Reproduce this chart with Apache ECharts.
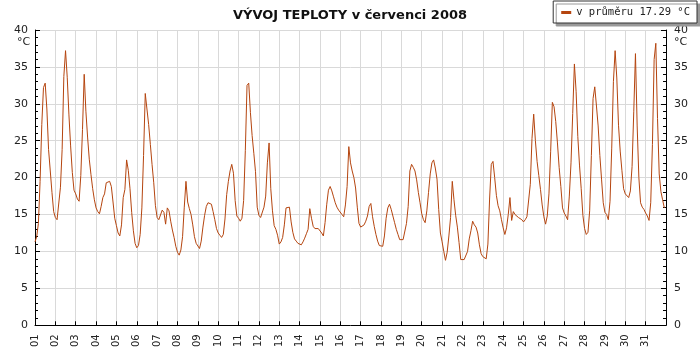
<!DOCTYPE html>
<html><head><meta charset="utf-8">
<script src="https://cdn.jsdelivr.net/npm/echarts@6/dist/echarts.min.js"></script>
<style>html,body{margin:0;padding:0;background:#fff}#c{width:700px;height:350px}</style>
</head><body><div id="c"></div>
<script>
const chartTitle = 'VÝVOJ TEPLOTY v červenci 2008';
const legendName = 'v průměru 17.29 °C';
const unitLabel = '°C';
const samplesPerDay = 12; // one reading every 2 hours

const days01_04 = [
  11.3, 12.0, 13.8, 19.5, 27.2, 32.2, 32.8, 29.3, 23.8, 20.9, 18.0, 15.4,
  14.6, 14.3, 14.2, 18.7, 23.8, 33.7, 37.2, 33.6, 28.5, 24.3, 20.7, 18.3,
  17.8, 17.1, 16.8, 20.3, 26.5, 34.0, 29.0, 25.5, 22.5, 20.4, 18.5, 17.0,
  15.9, 15.4, 15.1, 16.1, 17.3, 17.8, 19.3, 19.4, 19.5, 18.8, 16.7, 14.5
];
const days05_08 = [
  13.5, 12.5, 12.1, 13.6, 17.3, 18.4, 22.4, 21.0, 18.5, 15.3, 12.8, 11.1,
  10.5, 10.8, 12.3, 15.9, 23.0, 31.4, 29.3, 27.2, 24.5, 21.8, 19.3, 16.2,
  14.6, 14.3, 14.1, 15.6, 15.3, 13.7, 15.9, 15.5, 14.1, 12.9, 11.9, 10.7,
  9.9, 9.5, 10.2, 12.0, 16.0, 19.5, 16.7, 15.8, 15.0, 13.6, 12.0, 11.1
];
const days09_12 = [
  10.9, 10.4, 11.4, 13.3, 14.9, 16.1, 16.6, 16.5, 16.4, 15.4, 14.3, 13.1,
  12.5, 12.2, 11.9, 12.3, 14.4, 17.7, 19.5, 20.9, 21.8, 20.6, 16.9, 14.8,
  14.5, 14.1, 14.5, 16.9, 23.7, 32.5, 32.8, 28.8, 25.7, 23.3, 20.8, 16.0,
  14.9, 14.6, 14.5, 16.0, 17.5, 22.0, 24.7, 18.5, 15.5, 13.5, 13.0, 12.2
];
const days13_16 = [
  11.0, 11.3, 11.9, 13.6, 15.9, 15.7, 16.0, 14.0, 12.6, 11.7, 11.4, 11.1,
  10.9, 10.9, 11.3, 11.8, 12.4, 13.0, 15.8, 14.5, 13.4, 13.1, 13.1, 13.1,
  13.0, 12.5, 12.1, 13.9, 16.4, 18.3, 18.8, 18.2, 17.4, 16.6, 16.0, 15.6,
  15.4, 15.0, 14.7, 16.3, 18.8, 24.2, 22.0, 20.9, 20.0, 18.6, 16.0, 13.8
];
const days17_20 = [
  13.3, 13.2, 13.6, 14.1, 14.8, 16.1, 16.5, 14.7, 13.4, 12.3, 11.4, 10.8,
  10.7, 10.7, 12.1, 14.5, 15.9, 16.4, 15.7, 14.8, 13.9, 13.0, 12.3, 11.6,
  11.6, 11.6, 11.4, 13.8, 16.1, 20.9, 21.8, 21.4, 20.9, 19.7, 18.0, 16.6,
  15.1, 14.3, 13.9, 15.5, 18.0, 20.5, 22.0, 22.4, 21.3, 19.8, 15.7, 12.5
];
const days21_24 = [
  11.3, 10.0, 8.8, 9.9, 12.1, 14.6, 19.5, 17.0, 14.9, 13.3, 11.2, 8.9,
  8.8, 8.9, 9.0, 10.0, 11.7, 12.8, 14.1, 13.6, 13.3, 12.5, 10.9, 9.7,
  9.3, 9.1, 9.0, 11.0, 17.1, 21.8, 22.2, 20.0, 17.6, 16.2, 15.5, 14.3,
  13.2, 12.3, 13.2, 15.0, 17.3, 14.2, 15.4, 15.0, 14.9, 14.6, 14.5, 14.3
];
const days25_28 = [
  14.0, 14.3, 14.7, 14.9, 19.1, 25.3, 28.6, 25.0, 22.2, 20.3, 18.4, 16.3,
  14.7, 13.7, 14.8, 17.8, 23.5, 30.2, 29.6, 27.6, 24.7, 21.4, 18.8, 15.9,
  15.2, 14.8, 14.3, 17.5, 22.0, 28.7, 35.4, 31.7, 25.6, 21.7, 18.5, 14.9,
  13.1, 12.3, 12.6, 15.5, 23.0, 30.7, 32.3, 29.7, 27.0, 23.0, 19.8, 16.6
];
const days29_31 = [
  15.3, 15.0, 14.3, 16.8, 24.0, 33.0, 37.2, 33.5, 27.1, 23.6, 21.0, 18.5,
  17.8, 17.6, 17.3, 18.2, 21.5, 29.0, 36.8, 27.0, 20.0, 16.6, 16.0, 15.7,
  15.2, 14.8, 14.2, 16.6, 24.5, 36.0, 38.2, 28.0, 20.5, 18.1, 17.0, 15.9
];
const dayLabels = ['01','02','03','04','05','06','07','08','09','10','11','12','13','14','15','16',
  '17','18','19','20','21','22','23','24','25','26','27','28','29','30','31'];
const yTicks = [0, 5, 10, 15, 20, 25, 30, 35, 40];

const temps = [].concat(days01_04, days05_08, days09_12, days13_16, days17_20, days21_24, days25_28, days29_31);
const seriesData = temps.map((v, i) => [i / samplesPerDay, v]);

const font = 'DejaVu Sans';
const lineColor = '#b5450f';
const chart = echarts.init(document.getElementById('c'), null, {renderer: 'canvas'});

const yAxisCommon = {
  type: 'value', min: yTicks[0], max: yTicks[yTicks.length - 1], interval: 5,
  axisLine: {show: true, lineStyle: {color: '#000', width: 1}},
  axisTick: {show: true, inside: true, length: 5, lineStyle: {color: '#000'}},
  minorTick: {show: true, splitNumber: 5, length: 3, lineStyle: {color: '#000'}},
  axisLabel: {color: '#222', fontFamily: font, fontSize: 11, margin: 7}
};

chart.setOption({
  animation: false,
  backgroundColor: '#fff',
  title: {
    text: chartTitle, left: 'center', top: 4,
    textStyle: {fontFamily: font, fontSize: 13, fontWeight: 'bold', color: '#111'}
  },
  legend: {
    right: 3, top: 1,
    padding: [5, 7, 4, 8],
    icon: 'rect', itemWidth: 10, itemHeight: 3, itemGap: 5,
    backgroundColor: '#fff',
    borderColor: '#333', borderWidth: 1, borderRadius: 0,
    shadowColor: '#999', shadowBlur: 0, shadowOffsetX: 3, shadowOffsetY: 3,
    textStyle: {fontFamily: 'DejaVu Sans Mono', fontSize: 10.5, lineHeight: 13, color: '#222'},
    data: [legendName]
  },
  grid: {left: 35, right: 34, top: 30, bottom: 24, containLabel: false},
  xAxis: {
    type: 'value', min: 0, max: dayLabels.length, interval: 1,
    axisLine: {show: true, lineStyle: {color: '#000', width: 1}},
    axisTick: {show: true, inside: true, length: 4, lineStyle: {color: '#000'}},
    splitLine: {show: true, lineStyle: {color: '#d9d9d9', width: 1}},
    axisLabel: {
      rotate: 90, fontFamily: font, fontSize: 10, color: '#222', margin: 9,
      showMaxLabel: false,
      formatter: v => dayLabels[Math.round(v)] || ''
    }
  },
  yAxis: [
    Object.assign({}, yAxisCommon, {
      position: 'left',
      splitLine: {show: true, lineStyle: {color: '#d9d9d9', width: 1}}
    }),
    Object.assign({}, yAxisCommon, {
      position: 'right',
      splitLine: {show: false},
      axisLabel: {color: '#222', fontFamily: font, fontSize: 11, margin: 8}
    })
  ],
  graphic: [
    {type: 'text', left: 17, top: 37, silent: true,
     style: {text: unitLabel, font: '11px DejaVu Sans', fill: '#222'}},
    {type: 'text', left: 674, top: 37, silent: true,
     style: {text: unitLabel, font: '11px DejaVu Sans', fill: '#222'}}
  ],
  series: [{
    name: legendName, type: 'line', yAxisIndex: 0,
    data: seriesData, showSymbol: false, symbol: 'none',
    smooth: false, sampling: null,
    lineStyle: {color: lineColor, width: 1},
    itemStyle: {color: lineColor}
  }]
});
</script>
</body></html>
